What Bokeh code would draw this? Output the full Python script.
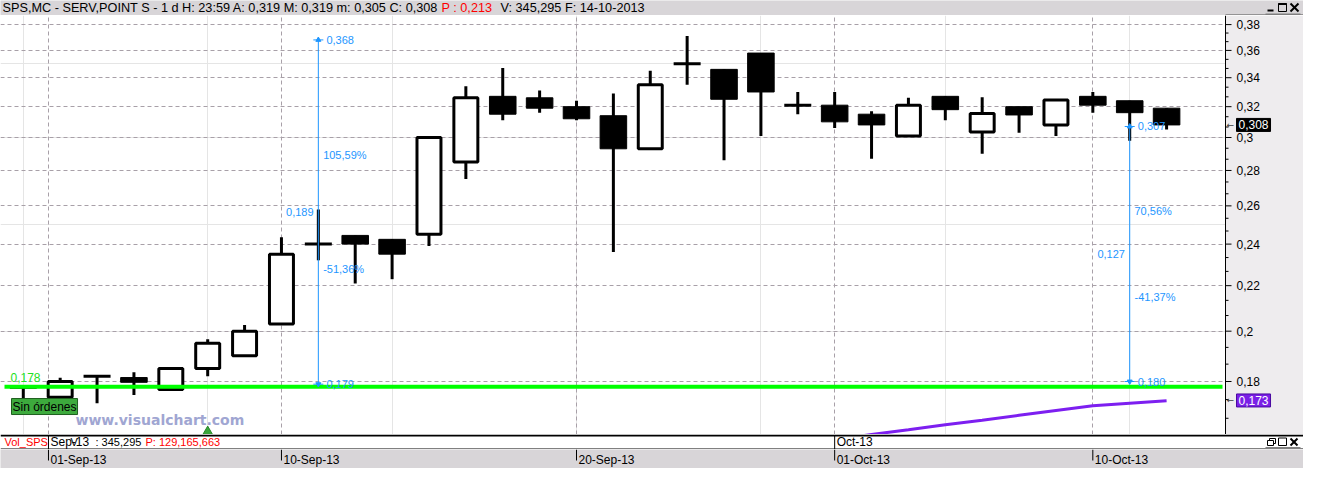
import numpy as np
from bokeh.plotting import figure
from bokeh.layouts import column
from bokeh.models import Range1d, FixedTicker, Grid, ColumnDataSource
from bokeh.core.properties import value
from bokeh.embed import file_html
from bokeh.resources import INLINE

# ---------------- data ----------------
dates = ["30-Aug-13", "02-Sep-13", "03-Sep-13", "04-Sep-13", "05-Sep-13", "06-Sep-13",
         "09-Sep-13", "10-Sep-13", "11-Sep-13", "12-Sep-13", "13-Sep-13", "16-Sep-13",
         "17-Sep-13", "18-Sep-13", "19-Sep-13", "20-Sep-13", "23-Sep-13", "24-Sep-13",
         "25-Sep-13", "26-Sep-13", "27-Sep-13", "30-Sep-13", "01-Oct-13", "02-Oct-13",
         "03-Oct-13", "04-Oct-13", "07-Oct-13", "08-Oct-13", "09-Oct-13", "10-Oct-13",
         "11-Oct-13", "14-Oct-13"]
opens = [0.1785, 0.1742, 0.182, 0.1815, 0.177, 0.185, 0.190, 0.203, 0.240, 0.2444, 0.2424,
         0.245, 0.285, 0.327, 0.326, 0.320, 0.314, 0.293, 0.350, 0.346, 0.358, 0.321,
         0.321, 0.315, 0.301, 0.327, 0.3035, 0.320, 0.308, 0.327, 0.324, 0.319]
highs = [0.1785, 0.1814, 0.182, 0.1835, 0.185, 0.1966, 0.2026, 0.2435, 0.258, 0.2444, 0.2424,
         0.300, 0.334, 0.347, 0.331, 0.324, 0.329, 0.345, 0.371, 0.346, 0.358, 0.330,
         0.330, 0.317, 0.326, 0.327, 0.3263, 0.320, 0.3245, 0.330, 0.324, 0.319]
lows = [0.173, 0.1742, 0.172, 0.175, 0.177, 0.182, 0.190, 0.203, 0.232, 0.221, 0.223,
        0.239, 0.275, 0.311, 0.316, 0.311, 0.236, 0.293, 0.335, 0.286, 0.301, 0.315,
        0.306, 0.287, 0.301, 0.311, 0.290, 0.303, 0.301, 0.316, 0.298, 0.305]
closes = [0.1775, 0.180, 0.182, 0.1797, 0.185, 0.195, 0.200, 0.235, 0.240, 0.240, 0.235,
          0.300, 0.326, 0.315, 0.319, 0.312, 0.293, 0.335, 0.350, 0.325, 0.330, 0.321,
          0.310, 0.308, 0.321, 0.318, 0.3155, 0.3145, 0.3245, 0.321, 0.316, 0.308]

# moving average (purple) for the last sessions
ma_idx = [22, 23, 24, 25, 26, 27, 28, 29, 30, 31]
ma_vals = [0.1594, 0.1611, 0.1627, 0.1644, 0.1660, 0.1677, 0.1694, 0.1711, 0.1720, 0.1729]

signal_idx = [5]
signal_val = [0.162]

date_tick_pos = [0.683, 7, 15, 22, 29]
date_tick_labels = ["01-Sep-13", "10-Sep-13", "20-Sep-13", "01-Oct-13", "10-Oct-13"]
month_tick_pos = [0.683, 22]
month_labels = ["Sep-13", "Oct-13"]

y_ticks = [0.18, 0.20, 0.22, 0.24, 0.26, 0.28, 0.30, 0.32, 0.34, 0.36, 0.38]

support_level = 0.178
last_close = 0.308
ma_last = 0.173

meas_x = [8, 30]
meas_top = [0.368, 0.307]
meas_bot = [0.179, 0.180]

header_main = "SPS,MC - SERV,POINT S -  1 d H: 23:59 A: 0,319 M: 0,319 m: 0,305 C: 0,308"
header_red = "P : 0,213"
header_end = "V: 345,295 F: 14-10-2013"
vol_name = "Vol_SPS"
vol_v = ": 345,295"
vol_p = "P: 129,165,663"

FONT = "Liberation Sans"
W = 1303            # total width (frame covers everything)
CW = 1222           # width of the candle area (axis panel on the right)
X0, X1C = -0.618, 32.516
XR = X0 + (X1C - X0) * W / CW
YMIN, YMAX = 0.1611, 0.3873
GRID_COLOR = "#a8a0a8"
PANEL = "#eeecee"
GRAY = "#d8d5d8"
DPX = (X1C - X0) / CW   # index units per pixel


def fmt(v, d=3):
    return f"{v:.{d}f}".replace(".", ",")


def ix(px):
    """pixel offset from the left edge -> x index coordinate"""
    return X0 + px * DPX


def strip(height, bg, x_range):
    f = figure(width=W, height=height, x_range=x_range, y_range=Range1d(height, 0),
               toolbar_location=None, output_backend="svg", title=None,
               x_axis_location=None, y_axis_location=None,
               min_border_left=0, min_border_right=0, min_border_top=0, min_border_bottom=0)
    f.grid.visible = False
    f.outline_line_color = None
    f.background_fill_color = bg
    f.border_fill_color = bg
    return f


# ---------------- main chart ----------------
p = figure(width=W, height=419, x_range=Range1d(X0, XR), y_range=Range1d(YMIN, YMAX),
           y_axis_type="log", x_axis_location=None, y_axis_location=None,
           toolbar_location=None, output_backend="svg", title=None,
           min_border_left=0, min_border_right=0, min_border_top=0, min_border_bottom=0)
p.background_fill_color = "white"
p.border_fill_color = "white"
p.outline_line_color = None
p.add_layout(Grid(dimension=1, ticker=FixedTicker(ticks=y_ticks),
                  grid_line_color=GRID_COLOR, grid_line_dash="4 3", grid_line_width=1))
p.add_layout(Grid(dimension=0, ticker=FixedTicker(ticks=date_tick_pos),
                  grid_line_color=GRID_COLOR, grid_line_dash="4 3", grid_line_width=1))

idx = list(range(len(dates)))
src = ColumnDataSource(dict(x=idx, o=opens, h=highs, l=lows, c=closes))
p.segment(x0="x", y0="l", x1="x", y1="h", source=src, line_color="black", line_width=3)

up = [i for i in idx if closes[i] > opens[i]]
dn = [i for i in idx if closes[i] < opens[i]]
dj = [i for i in idx if closes[i] == opens[i]]
src_up = ColumnDataSource(dict(x=up, o=[opens[i] for i in up], c=[closes[i] for i in up]))
src_dn = ColumnDataSource(dict(x=dn, o=[opens[i] for i in dn], c=[closes[i] for i in dn]))
src_dj = ColumnDataSource(dict(x=dj, o=[opens[i] for i in dj]))
p.vbar(x="x", width=0.65, top="c", bottom="o", source=src_up, fill_color="white",
       line_color="black", line_width=3)
p.vbar(x="x", width=0.72, top="o", bottom="c", source=src_dn, fill_color="black",
       line_color="black", line_width=1)
p.scatter(x="x", y="o", source=src_dj, marker="dash", size=27, line_color="black",
          line_width=3)

# moving average
p.line(x=ma_idx, y=ma_vals, line_color="#7d1ff0", line_width=3)

# support line and its labels
p.segment(x0=[ix(4)], y0=[support_level], x1=[ix(CW)], y1=[support_level],
          line_color="#00ff00", line_width=4)
p.text(x=[ix(10)], y=[0.1799], text=[fmt(support_level)], text_baseline="bottom",
       text_color="#22e022", text_font=value(FONT), text_font_size="12px")
p.text(x=[ix(11)], y=[0.1737], text=["Sin órdenes"], text_baseline="top",
       text_color="black", text_font=value(FONT), text_font_size="12px",
       background_fill_color="#3daa3d", border_line_color="#1f5f1f", padding=1)
p.text(x=[ix(75)], y=[0.1690], text=["www.visualchart.com"], text_baseline="top",
       text_color="#a0a6d2", text_font=value("DejaVu Sans"), text_font_style="bold",
       text_font_size="14px")
p.scatter(x=signal_idx, y=signal_val, marker="triangle", size=10, fill_color="#3aa63a",
          line_color="#2a862a")

# measurement lines
BLUE = "#1e96ff"
for mx, mt, mb in zip(meas_x, meas_top, meas_bot):
    p.segment(x0=[mx], y0=[mb], x1=[mx], y1=[mt], line_color=BLUE, line_width=1)
    p.scatter(x=[mx, mx], y=[mt, mb], marker="dash", size=10, line_color=BLUE, line_width=1)
    p.scatter(x=[mx], y=[mt], marker="triangle", size=5, fill_color=BLUE, line_color=BLUE)
    p.scatter(x=[mx], y=[mb], marker="inverted_triangle", size=5, fill_color=BLUE,
              line_color=BLUE)
    pct_up = (mt / mb - 1) * 100
    pct_dn = -(1 - mb / mt) * 100
    y13 = mt * (mb / mt) ** (1 / 3)
    y12 = mt * (mb / mt) ** 0.5
    y23 = mt * (mb / mt) ** (2 / 3)
    p.text(x=[mx + 0.22, mx + 0.22], y=[mt, mb], text=[fmt(mt), fmt(mb)],
           text_baseline="middle", text_align="left", text_font=value(FONT),
           text_font_size="11px", text_color=BLUE)
    p.text(x=[mx + 0.13, mx + 0.13], y=[y13, y23],
           text=[fmt(pct_up, 2) + "%", fmt(pct_dn, 2) + "%"],
           text_baseline="middle", text_align="left", text_font=value(FONT),
           text_font_size="11px", text_color=BLUE)
    p.text(x=[mx - 0.13], y=[y12], text=[fmt(mt - mb)], text_baseline="middle",
           text_align="right", text_font=value(FONT), text_font_size="11px",
           text_color=BLUE)

# ---- price axis panel (right) ----
AX = ix(CW + 3)
p.quad(left=[AX], right=[XR], bottom=[YMIN], top=[YMAX], fill_color=PANEL,
       line_color=None)
p.segment(x0=[AX], y0=[YMIN], x1=[AX], y1=[YMAX], line_color="black", line_width=1)
minor = []
for a, b in zip([0.16] + y_ticks[:-1], y_ticks):
    minor += [a + (b - a) / 3, a + 2 * (b - a) / 3]
p.segment(x0=[AX] * len(y_ticks), y0=y_ticks, x1=[AX + 6 * DPX] * len(y_ticks), y1=y_ticks,
          line_color="black", line_width=1)
p.segment(x0=[AX] * len(minor), y0=minor, x1=[AX + 3 * DPX] * len(minor), y1=minor,
          line_color="black", line_width=1)
p.text(x=[AX + 11 * DPX] * len(y_ticks), y=y_ticks,
       text=[str(float(f"{t:.2f}")).replace(".", ",") for t in y_ticks],
       text_baseline="middle", text_align="left", text_font=value(FONT),
       text_font_size="12px", text_color="black")
for val, bg, bd in [(last_close, "black", "black"), (ma_last, "#7a1fe6", "#4a0aa0")]:
    p.text(x=[AX + 11 * DPX], y=[val], text=[fmt(val)], text_baseline="middle",
           text_align="left", text_font=value(FONT), text_font_size="12px",
           text_color="white", background_fill_color=bg, border_line_color=bd, padding=2)
    p.text(x=[AX + 1 * DPX], y=[val], text=["←"], text_baseline="middle",
           text_align="left", text_font=value("DejaVu Sans"), text_font_size="9px",
           text_color="#404040")

# ---------------- header ----------------
hdr = strip(15, GRAY, Range1d(0, W))
hdr.text(x=[2], y=[7.5], text=[header_main], text_baseline="middle", text_align="left",
         text_font=value(FONT), text_font_size="12.7px", text_color="black")
hdr.text(x=[441], y=[7.5], text=[header_red], text_baseline="middle", text_align="left",
         text_font=value(FONT), text_font_size="12.7px", text_color="#ff0000")
hdr.text(x=[500], y=[7.5], text=[header_end], text_baseline="middle", text_align="left",
         text_font=value(FONT), text_font_size="12.7px", text_color="black")
bx = 1266
hdr.segment(x0=[bx + 1], y0=[10], x1=[bx + 7], y1=[10], line_color="black", line_width=2)
hdr.quad(left=[bx + 12], right=[bx + 20], top=[3], bottom=[11], fill_color=None,
         line_color="black", line_width=1)
hdr.segment(x0=[bx + 12], y0=[3.5], x1=[bx + 20], y1=[3.5], line_color="black", line_width=2)
hdr.segment(x0=[bx + 24, bx + 24], y0=[3, 11], x1=[bx + 32, bx + 32], y1=[11, 3],
            line_color="black", line_width=2)
hdr.segment(x0=[bx - 1], y0=[13.5], x1=[bx + 34], y1=[13.5], line_color="#808080",
            line_width=1)
hdr.segment(x0=[CW + 3], y0=[14.5], x1=[W], y1=[14.5], line_color="#505050", line_width=1)

# ---------------- volume strip ----------------
vol = strip(15, "white", p.x_range)
vol.segment(x0=[X0], y0=[1], x1=[XR], y1=[1], line_color="black", line_width=2)
vol.segment(x0=[X0], y0=[14.5], x1=[XR], y1=[14.5], line_color="black", line_width=1)
vol.segment(x0=month_tick_pos, y0=[1] * len(month_tick_pos), x1=month_tick_pos,
            y1=[15] * len(month_tick_pos), line_color="black", line_width=1)
vol.text(x=[ix(4)], y=[7.5], text=[vol_name], text_baseline="middle", text_font=value(FONT),
         text_font_size="11px", text_color="#ff0000")
vol.text(x=[ix(70)], y=[7.5], text=["V"], text_baseline="middle", text_font=value(FONT),
         text_font_size="11px", text_color="black")
vol.text(x=[ix(95)], y=[7.5], text=[vol_v], text_baseline="middle",
         text_font=value(FONT), text_font_size="11px", text_color="black")
vol.text(x=[ix(145)], y=[7.5], text=[vol_p], text_baseline="middle",
         text_font=value(FONT), text_font_size="11px", text_color="#ff0000")
vol.text(x=[m + 2 * DPX for m in month_tick_pos], y=[7.5] * len(month_tick_pos),
         text=month_labels, text_baseline="middle", text_font=value(FONT),
         text_font_size="12px", text_color="black")
vol.quad(left=[ix(bx + 3)], right=[ix(bx + 9)], top=[4], bottom=[9], fill_color=None,
         line_color="black")
vol.quad(left=[ix(bx + 1)], right=[ix(bx + 7)], top=[6], bottom=[11], fill_color="white",
         line_color="black")
vol.quad(left=[ix(bx + 12)], right=[ix(bx + 20)], top=[3.5], bottom=[11], fill_color=None,
         line_color="black", line_width=1)
vol.segment(x0=[ix(bx + 24)] * 2, y0=[4, 11], x1=[ix(bx + 31)] * 2, y1=[11, 4],
            line_color="black", line_width=2)
vol.segment(x0=[ix(bx - 1)], y0=[13], x1=[ix(bx + 34)], y1=[13], line_color="#808080",
            line_width=1)

# ---------------- date strip ----------------
dts = strip(19, GRAY, p.x_range)
dts.segment(x0=date_tick_pos, y0=[0] * len(date_tick_pos), x1=date_tick_pos,
            y1=[11] * len(date_tick_pos), line_color="black", line_width=1)
dts.text(x=[d + 2 * DPX for d in date_tick_pos], y=[10] * len(date_tick_pos),
         text=date_tick_labels, text_baseline="middle", text_font=value(FONT),
         text_font_size="12px", text_color="black")

layout = column(hdr, p, vol, dts, spacing=0)
open("out.html", "w").write(file_html(layout, INLINE))
